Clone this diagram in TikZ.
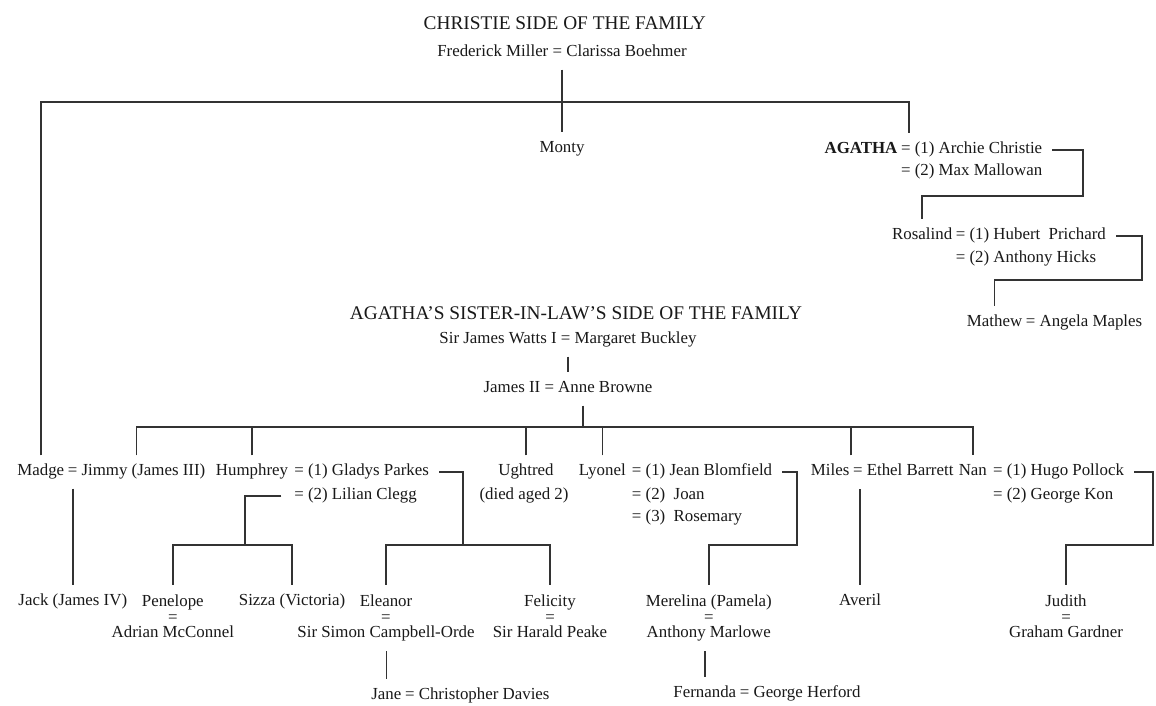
\documentclass[tikz,border=0pt]{standalone}
\usepackage{fontspec}
\setmainfont{Liberation Serif}
\usepackage{tikz}
\usetikzlibrary{calc,positioning}
\tikzset{member/.style={inner xsep=2pt,inner ysep=7pt,font=\fontsize{12}{11}\selectfont,text=black!90,text height=1.6ex,text depth=0.45ex},
	tight/.style={member,inner xsep=1.1pt},
	couple/.style={inner xsep=2pt,inner ysep=7pt,font=\fontsize{12}{11}\selectfont,text=black!90,align=center,anchor=north},
	heading/.style={font=\fontsize{13.75}{15}\selectfont,text=black!90},
	famline/.style={draw=black!80,line width=1.1pt}}

\begin{document}
\begin{tikzpicture}
	\fill [white] (0,0) rectangle (28.9,-17.65);
	\useasboundingbox (0,0) rectangle (28.9,-17.65);
	
	% christie side
	\node [heading] (side1) at (14.12, -0.57) {CHRISTIE SIDE OF THE FAMILY};
	\node [member] (fm) at (14.05, -1.32) {Frederick Miller = Clarissa Boehmer};
	\node [member] (monty) at (14.05, -3.72) {Monty};
	
	\node [tight, anchor=east] (agatha) at (22.48, -3.75) {\textbf{AGATHA}};
	\node [tight, anchor=west] (archie) at (22.48, -3.75) {= (1) Archie Christie};
	\node [tight, anchor=west] (max) at (22.48, -4.3) {= (2) Max Mallowan};
	
	\node [tight, anchor=east] (rosalind) at (23.85, -5.9) {Rosalind};
	\node [tight, anchor=west] (hubert) at (23.85, -5.9) {= (1) Hubert~ Prichard};
	\node [tight, anchor=west] (hicks) at (23.85, -6.48) {= (2) Anthony Hicks};
	
	\node [tight, anchor=east] (mathew) at (25.6, -8.08) {Mathew};
	\node [tight, anchor=west] (angela) at (25.6, -8.08) {= Angela Maples};
	
	% sister-in-law side
	\node [heading] (side2) at (14.4, -7.83) {AGATHA’S SISTER-IN-LAW’S SIDE OF THE FAMILY};
	\node [member] (watts) at (14.2, -8.5) {Sir James Watts I = Margaret Buckley};
	\node [member] (james) at (14.2, -9.72) {James II = Anne Browne};
	
	\node [tight, anchor=east] (madge) at (1.65, -11.8) {Madge};
	\node [tight, anchor=west] (jimmy) at (1.65, -11.8) {= Jimmy (James III)};
	
	\node [member, anchor=east] (humphrey) at (7.28, -11.8) {Humphrey};
	\node [member, anchor=west] (gladys) at (7.28, -11.8) {= (1) Gladys Parkes};
	\node [member, anchor=west] (lilian) at (7.28, -12.4) {= (2) Lilian Clegg};
	
	\node [member] (ughtred) at (13.15, -11.8) {Ughtred};
	\node [member] (died) at (13.1, -12.4) {(died aged 2)};
	
	\node [member, anchor=east] (lyonel) at (15.72, -11.8) {Lyonel};
	\node [member, anchor=west] (jean) at (15.72, -11.8) {= (1) Jean Blomfield};
	\node [member, anchor=west] (joan) at (15.72, -12.4) {= (2)~ Joan};
	\node [member, anchor=west] (rosemary) at (15.72, -12.95) {= (3)~ Rosemary};
	
	\node [tight, anchor=east] (miles) at (21.28, -11.8) {Miles};
	\node [tight, anchor=west] (ethel) at (21.28, -11.8) {= Ethel Barrett};
	
	\node [member, anchor=east] (nan) at (24.75, -11.8) {Nan};
	\node [member, anchor=west] (hugo) at (24.75, -11.8) {= (1) Hugo Pollock};
	\node [member, anchor=west] (george) at (24.75, -12.4) {= (2) George Kon};
	
	\node [member, anchor=north] (jack) at (1.82, -14.62) {Jack (James IV)};
	\node [couple] (penelope) at (4.32, -14.62) {Penelope\\=\\Adrian McConnel};
	\node [member, anchor=north] (sizza) at (7.3, -14.62) {Sizza (Victoria)};
	\node [couple] (eleanor) at (9.65, -14.62) {Eleanor\\=\\Sir Simon Campbell-Orde};
	\node [couple] (felicity) at (13.75, -14.62) {Felicity\\=\\Sir Harald Peake};
	\node [couple] (merelina) at (17.72, -14.62) {Merelina (Pamela)\\=\\Anthony Marlowe};
	\node [member, anchor=north] (averil) at (21.5, -14.62) {Averil};
	\node [couple] (judith) at (26.65, -14.62) {Judith\\=\\Graham Gardner};
	
	\node [tight, anchor=east] (jane) at (10.08, -17.4) {Jane};
	\node [tight, anchor=west] (davies) at (10.08, -17.4) {= Christopher Davies};
	\node [tight, anchor=east] (fernanda) at (18.45, -17.35) {Fernanda};
	\node [tight, anchor=west] (herford) at (18.45, -17.35) {= George Herford};
	
	% lines
	\draw [famline] (fm) -- (monty);
	\coordinate (topbar) at (0, -2.55);
	\coordinate (agtop) at ([xshift=0.25cm]archie.north west);
	\draw [famline] (madge.north) |- (topbar -| agtop) -- (agtop);
	
	\coordinate (agk) at (27.08, -4.9);
	\draw [famline, shorten <=6pt] (archie.east) -| (agk) -| (rosalind.north);
	\coordinate (rk) at (28.55, -7);
	\draw [famline, shorten <=6pt] (hubert.east) -| (rk) -| (mathew.north);
	
	\draw [famline] (watts) -- (james);
	\coordinate (sibbar) at (0, -10.68);
	\coordinate (jdrop) at ([xshift=0.38cm]james.south);
	\draw [famline] (jdrop) -- (jdrop |- sibbar);
	\draw [famline] (jimmy.north) |- (sibbar -| nan.north) -- (nan.north);
	\foreach \kid in {humphrey, ughtred, lyonel}
		\draw [famline] (\kid.north) -- (\kid.north |- sibbar);
	\draw [famline] (ethel.north west) -- (ethel.north west |- sibbar);
	
	\draw [famline] (jack.north |- madge.south) -- (jack.north);
	
	\coordinate (hk2) at (6.12, -13.62);
	\draw [famline, shorten <=7pt] (lilian.west) -| (hk2) -| (sizza.north);
	\draw [famline] (penelope.north) |- (hk2);
	\coordinate (hk1) at (11.57, -13.62);
	\draw [famline, shorten <=5pt] (gladys.east) -| (hk1) -| (felicity.north);
	\draw [famline] (eleanor.north) |- (hk1);
	\draw [famline] (jane.north |- eleanor.south) -- (jane.north);
	
	\coordinate (lk) at (19.92, -13.62);
	\draw [famline, shorten <=5pt] (jean.east) -| (lk) -| (merelina.north);
	\draw [famline] (fernanda.north |- merelina.south) -- (fernanda.north);
	
	\draw [famline] (averil.north) -- (averil.north |- ethel.south);
	
	\coordinate (nk) at (28.82, -13.62);
	\draw [famline, shorten <=5pt] (hugo.east) -| (nk) -| (judith.north);
	
\end{tikzpicture}
\end{document}
